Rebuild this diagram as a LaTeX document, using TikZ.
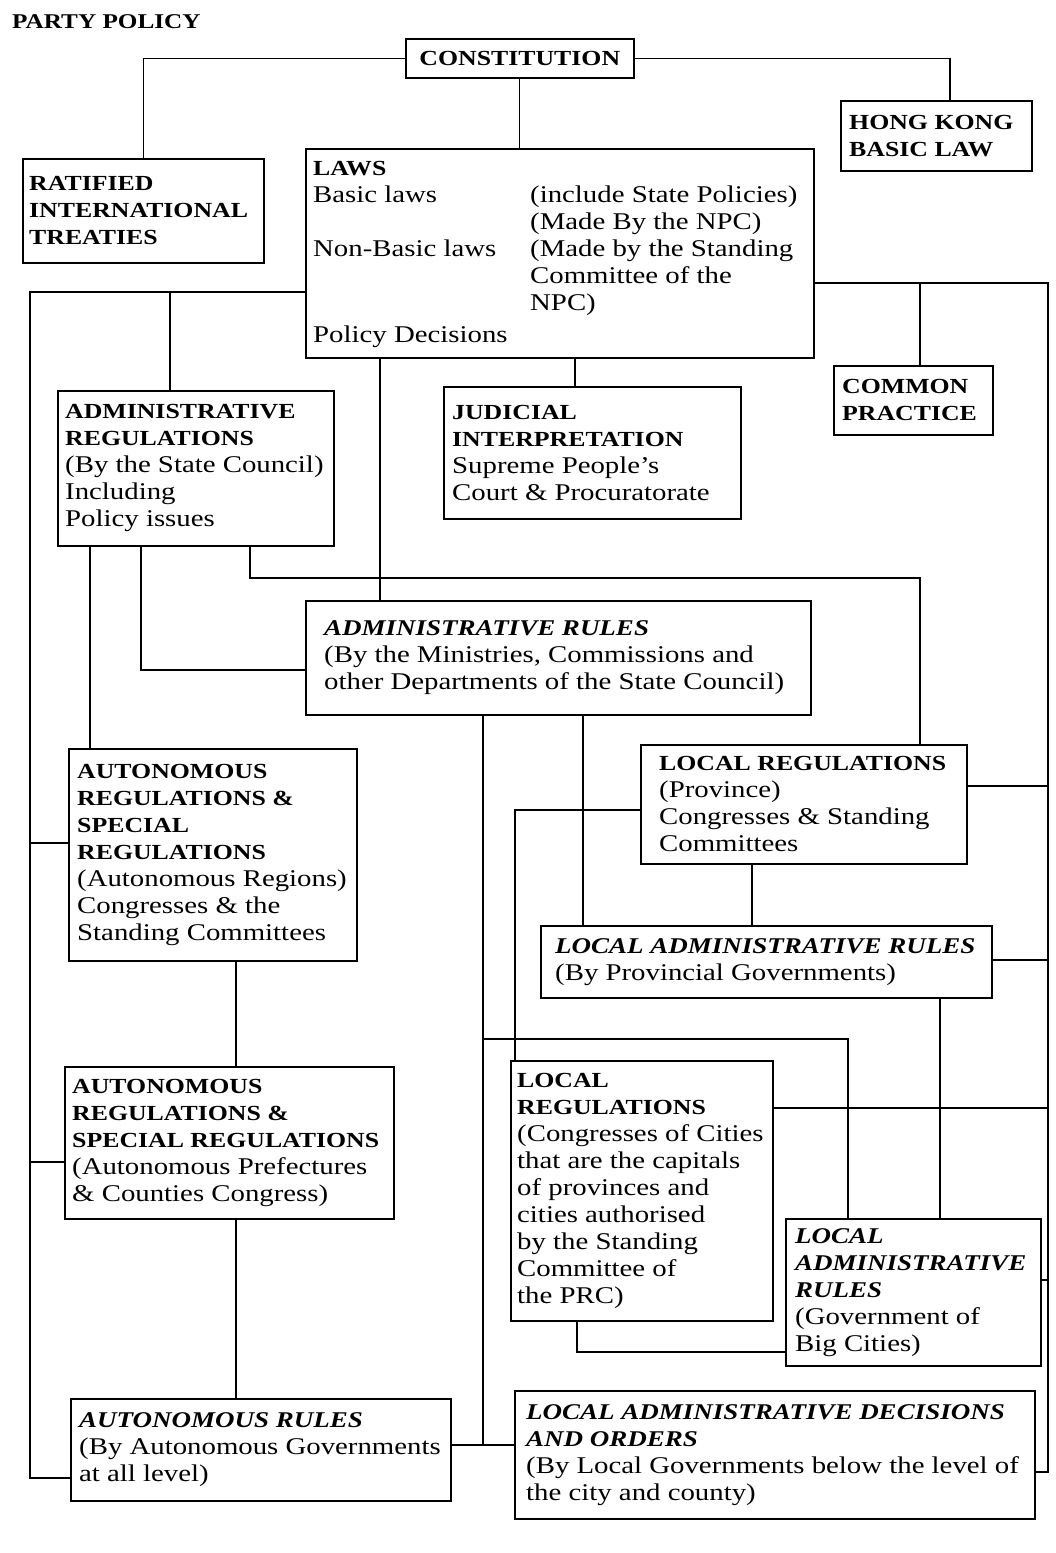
\documentclass[tikz,border=0pt]{standalone}
\usepackage{fontspec}
\setmainfont{Liberation Serif}[FakeStretch=1.2]
\newcommand\hb[1]{{\fontsize{21.5}{27}\selectfont\bfseries #1}}
\newcommand\hi[1]{{\fontsize{22.5}{27}\selectfont\bfseries\itshape #1}}
\tikzset{
  box/.style={draw, line width=1.6pt, anchor=north west, inner sep=0pt},
  txt/.style={anchor=west, align=left, inner sep=0pt, font=\fontsize{24}{27}\selectfont},
  link/.style={line width=1.1pt},
}
\begin{document}
\begin{tikzpicture}[x=1pt,y=-1pt]
\fill[white] (0,0) rectangle (1056,1553);
\useasboundingbox (0,0) rectangle (1056,1553);

\node[anchor=base west, inner sep=0pt, font=\fontsize{21}{27}\selectfont\bfseries] (party) at (12,28) {PARTY POLICY};

% boxes
\node[box,minimum width=228pt,minimum height=39pt] (const) at (405,38) {};
\node[txt,anchor=center] (const-t) at (const.center) {\hb{CONSTITUTION}};

\node[box,minimum width=191pt,minimum height=70pt] (hk) at (840,100) {};
\node[txt] (hk-t) at ([xshift=9pt]hk.west) {\hb{HONG KONG}\\\hb{BASIC LAW}};

\node[box,minimum width=241pt,minimum height=104pt] (treaties) at (22,158) {};
\node[txt] (treaties-t) at ([xshift=7pt]treaties.west) {\hb{RATIFIED}\\\hb{INTERNATIONAL}\\\hb{TREATIES}};

\node[box,minimum width=508pt,minimum height=209pt] (laws) at (305,148) {};
\node[txt] (laws-t) at ([xshift=8pt]laws.west) {%
\begin{tabular}{@{}p{217pt}@{}l@{}}
\hb{LAWS} & \\
Basic laws & (include State Policies)\\
 & (Made By the NPC)\\
Non-Basic laws & (Made by the Standing\\
 & Committee of the\\
 & NPC)\\[5pt]
Policy Decisions &
\end{tabular}};

\node[box,minimum width=159pt,minimum height=69pt] (common) at (833,365) {};
\node[txt] (common-t) at ([xshift=9pt]common.west) {\hb{COMMON}\\\hb{PRACTICE}};

\node[box,minimum width=297pt,minimum height=132pt] (judicial) at (443,386) {};
\node[txt] (judicial-t) at ([xshift=9pt]judicial.west) {\hb{JUDICIAL}\\\hb{INTERPRETATION}\\Supreme People's\\Court \& Procuratorate};

\node[box,minimum width=276pt,minimum height=155pt] (adminreg) at (57,390) {};
\node[txt] (adminreg-t) at ([xshift=8pt]adminreg.west) {\hb{ADMINISTRATIVE}\\\hb{REGULATIONS}\\(By the State Council)\\Including\\Policy issues};

\node[box,minimum width=505pt,minimum height=114pt] (adminrules) at (305,600) {};
\node[txt] (adminrules-t) at ([xshift=19pt]adminrules.west) {\hi{ADMINISTRATIVE RULES}\\(By the Ministries, Commissions and\\other Departments of the State Council)};

\node[box,minimum width=288pt,minimum height=212pt] (autoreg1) at (68,748) {};
\node[txt] (autoreg1-t) at ([xshift=9pt]autoreg1.west) {\hb{AUTONOMOUS}\\\hb{REGULATIONS \&}\\\hb{SPECIAL}\\\hb{REGULATIONS}\\(Autonomous Regions)\\Congresses \& the\\Standing Committees};

\node[box,minimum width=326pt,minimum height=119pt] (locreg1) at (640,744) {};
\node[txt] (locreg1-t) at ([xshift=19pt]locreg1.west) {\hb{LOCAL REGULATIONS}\\(Province)\\Congresses \& Standing\\Committees};

\node[box,minimum width=451pt,minimum height=72pt] (locadm1) at (540,925) {};
\node[txt] (locadm1-t) at ([xshift=15pt]locadm1.west) {\hi{LOCAL ADMINISTRATIVE RULES}\\(By Provincial Governments)};

\node[box,minimum width=329pt,minimum height=152pt] (autoreg2) at (64,1066) {};
\node[txt] (autoreg2-t) at ([xshift=8pt]autoreg2.west) {\hb{AUTONOMOUS}\\\hb{REGULATIONS \&}\\\hb{SPECIAL REGULATIONS}\\(Autonomous Prefectures\\\& Counties Congress)};

\node[box,minimum width=262pt,minimum height=260pt] (locreg2) at (510,1060) {};
\node[txt] (locreg2-t) at ([xshift=7pt]locreg2.west) {\hb{LOCAL}\\\hb{REGULATIONS}\\(Congresses of Cities\\that are the capitals\\of provinces and\\cities authorised\\by the Standing\\Committee of\\the PRC)};

\node[box,minimum width=255pt,minimum height=147pt] (locadm2) at (785,1218) {};
\node[txt] (locadm2-t) at ([xshift=10pt]locadm2.west) {\hi{LOCAL}\\\hi{ADMINISTRATIVE}\\\hi{RULES}\\(Government of\\Big Cities)};

\node[box,minimum width=380pt,minimum height=102pt] (autorules) at (70,1398) {};
\node[txt] (autorules-t) at ([xshift=9pt]autorules.west) {\hi{AUTONOMOUS RULES}\\(By Autonomous Governments\\at all level)};

\node[box,minimum width=520pt,minimum height=128pt] (locdec) at (514,1390) {};
\node[txt] (locdec-t) at ([xshift=12pt]locdec.west) {\hi{LOCAL ADMINISTRATIVE DECISIONS}\\\hi{AND ORDERS}\\(By Local Governments below the level of\\the city and county)};

% helper columns and rows
\coordinate (xL) at (30,0);
\coordinate (xR) at (1048,0);
\coordinate (x90) at (90,0);
\coordinate (x141) at (141,0);
\coordinate (x170) at (170,0);
\coordinate (x236) at (236,0);
\coordinate (x250) at (250,0);
\coordinate (x380) at (380,0);
\coordinate (x483) at (483,0);
\coordinate (x515) at (515,0);
\coordinate (x575) at (575,0);
\coordinate (x577) at (577,0);
\coordinate (x583) at (583,0);
\coordinate (x752) at (752,0);
\coordinate (x848) at (848,0);
\coordinate (x920) at (920,0);
\coordinate (x940) at (940,0);
\coordinate (x950) at (950,0);
\coordinate (y283) at (0,283);
\coordinate (y292) at (0,292);
\coordinate (y578) at (0,578);
\coordinate (y670) at (0,670);
\coordinate (y786) at (0,786);
\coordinate (y810) at (0,810);
\coordinate (y843) at (0,843);
\coordinate (y960) at (0,960);
\coordinate (y1039) at (0,1039);
\coordinate (y1108) at (0,1108);
\coordinate (y1162) at (0,1162);
\coordinate (y1280) at (0,1280);
\coordinate (y1352) at (0,1352);
\coordinate (y1445) at (0,1445);
\coordinate (y1472) at (0,1472);
\coordinate (y1478) at (0,1478);

% connectors
\begin{scope}[link]
\draw (const.west) -| (treaties.north);
\draw (const.east) -| (x950 |- hk.north);
\draw (const.south) -- (const.south |- laws.north);
\draw (laws.west |- y292) -- (xL |- y292) -- (xL |- y1478) -- (autorules.west |- y1478);
\draw (x170 |- y292) -- (x170 |- adminreg.north);
\draw (xL |- y843) -- (autoreg1.west |- y843);
\draw (xL |- y1162) -- (autoreg2.west |- y1162);
\draw (laws.east |- y283) -- (xR |- y283) -- (xR |- y1472) -- (locdec.east |- y1472);
\draw (x920 |- y283) -- (x920 |- common.north);
\draw (locreg1.east |- y786) -- (xR |- y786);
\draw (locadm1.east |- y960) -- (xR |- y960);
\draw (locreg2.east |- y1108) -- (xR |- y1108);
\draw (locadm2.east |- y1280) -- (xR |- y1280);
\draw (x380 |- laws.south) -- (x380 |- adminrules.north);
\draw (x575 |- laws.south) -- (x575 |- judicial.north);
\draw (x90 |- adminreg.south) -- (x90 |- autoreg1.north);
\draw (x141 |- adminreg.south) -- (x141 |- y670) -- (adminrules.west |- y670);
\draw (x250 |- adminreg.south) -- (x250 |- y578) -- (x920 |- y578) -- (x920 |- locreg1.north);
\draw (x483 |- adminrules.south) -- (x483 |- y1445);
\draw (autorules.east |- y1445) -- (locdec.west |- y1445);
\draw (x483 |- y1039) -- (x848 |- y1039) -- (x848 |- locadm2.north);
\draw (x583 |- adminrules.south) -- (x583 |- locadm1.north);
\draw (locreg1.west |- y810) -- (x515 |- y810) -- (x515 |- locreg2.north);
\draw (x752 |- locreg1.south) -- (x752 |- locadm1.north);
\draw (x940 |- locadm1.south) -- (x940 |- locadm2.north);
\draw (x577 |- locreg2.south) -- (x577 |- y1352) -- (locadm2.west |- y1352);
\draw (x236 |- autoreg1.south) -- (x236 |- autoreg2.north);
\draw (x236 |- autoreg2.south) -- (x236 |- autorules.north);
\end{scope}
\end{tikzpicture}
\end{document}
